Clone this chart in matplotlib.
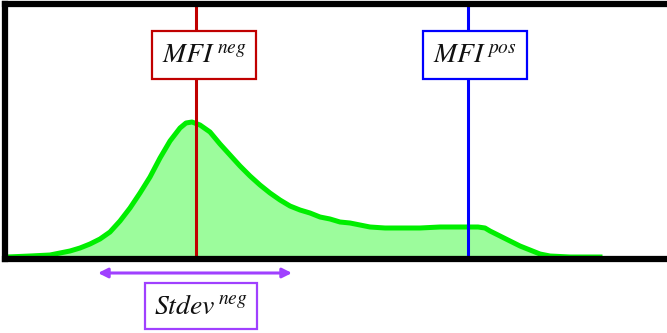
import matplotlib
matplotlib.use("Agg")
import matplotlib.pyplot as plt

plt.rcParams['mathtext.fontset'] = 'stix'

# histogram outline (fluorescence channel vs. event count)
channel = [7, 30, 50, 60, 70, 80, 90, 100, 110, 120, 130, 140, 150, 160, 170,
           180, 186, 192, 200, 210, 220, 230, 240, 250, 260, 270, 280, 290, 300,
           310, 320, 330, 340, 350, 360, 370, 385, 400, 420, 440, 460, 478, 485,
           490, 500, 510, 520, 530, 540, 550, 570, 600]
counts = [2, 3, 4, 6, 8, 11, 15, 20, 27, 38, 51, 66, 82, 101, 118,
          131, 136, 137, 134, 127, 115, 104, 93, 83, 74, 66, 59, 53, 49,
          46, 42, 40, 37, 36, 34, 32, 31, 31, 31, 32, 32, 32, 31,
          28, 23, 18, 13, 9, 5, 3, 2, 2]

mfi_neg = 196
mfi_pos = 468
stdev_lo, stdev_hi = 98, 292

fig = plt.figure(figsize=(6.67, 3.33), dpi=100)
ax = fig.add_axes([5 / 667, 74 / 333, 662 / 667, 255.5 / 333])
ax.set_xlim(5, 667)
ax.set_ylim(0, 255.5)

ax.fill_between(channel, counts, 0, color='#9cfc9c', zorder=1)
ax.plot(channel, counts, color='#00ee00', lw=3.6, solid_joinstyle='round', zorder=2)

ax.axvline(mfi_neg, color='#c00000', lw=2.2, zorder=3)
ax.axvline(mfi_pos, color='#0000ff', lw=2.2, zorder=3)

label_kw = dict(ha='center', va='center', fontsize=20, color='#111111', zorder=5)
ax.text(mfi_neg + 8, 204, r'$MFI^{\,neg}$',
        bbox=dict(boxstyle='square,pad=0.36', fc='white', ec='#c00000', lw=1.6),
        **label_kw)
ax.text(mfi_pos + 7, 204, r'$MFI^{\,pos}$',
        bbox=dict(boxstyle='square,pad=0.36', fc='white', ec='#0000ff', lw=1.6),
        **label_kw)

# spread of the negative population below the axis
ax.annotate('', xy=(stdev_lo, -14), xytext=(stdev_hi, -14),
            arrowprops=dict(arrowstyle='<|-|>', color='#a040ff', lw=2.2,
                            mutation_scale=14, shrinkA=0, shrinkB=0),
            annotation_clip=False)
ax.text((stdev_lo + stdev_hi) / 2 + 6, -47, r'$Stdev^{\,neg}$', clip_on=False,
        bbox=dict(boxstyle='square,pad=0.32', fc='white', ec='#a040ff', lw=1.6),
        **label_kw)

for side in ['left', 'top', 'bottom']:
    ax.spines[side].set_linewidth(4.5)
    ax.spines[side].set_color('black')
    ax.spines[side].set_zorder(4)
ax.spines['right'].set_visible(False)
ax.set_xticks([])
ax.set_yticks([])

fig.savefig('out.png', dpi=100)
